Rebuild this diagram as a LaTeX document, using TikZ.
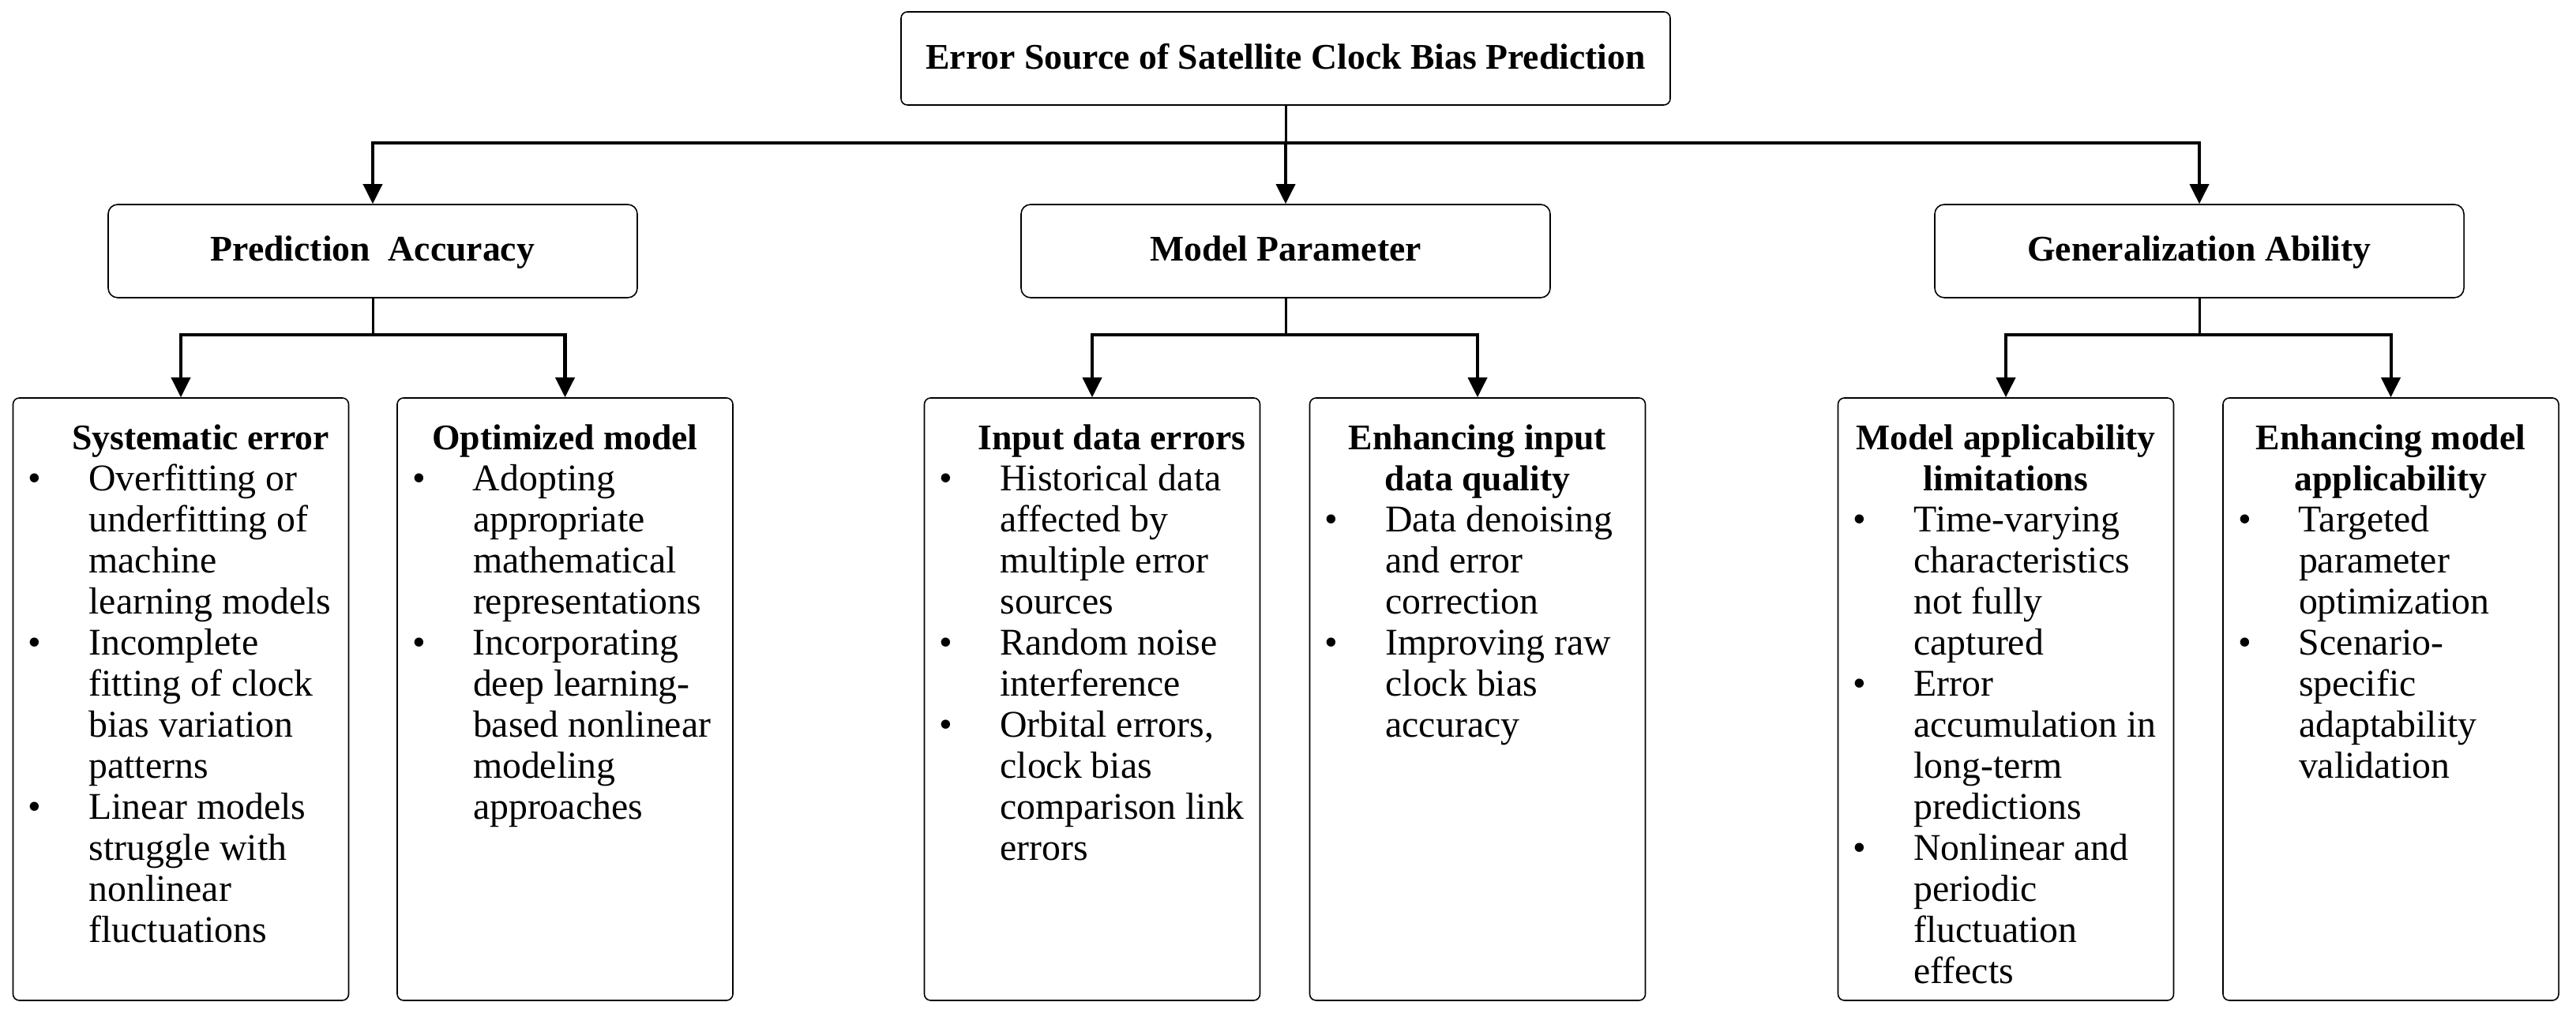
\documentclass[tikz,border=0pt]{standalone}
\usepackage{fontspec}
\setmainfont{Liberation Serif}
\usepackage{tikz}
\usetikzlibrary{arrows.meta}

\newcommand{\txtsize}{\fontsize{13.6}{14.8}\selectfont}
\newcommand{\ttlsize}{\fontsize{13}{14.8}\selectfont}
\newcommand{\bul}[1]{\par\noindent\hangindent=0.86cm\hangafter=1\makebox[0.86cm][l]{\hspace{0.09cm}\textbullet}#1}
\newcommand{\cardtitle}[1]{{\centering\ttlsize\textbf{#1}\par}}
\newcommand{\card}[1]{\begin{minipage}[t][7.43cm][t]{4.05cm}\raggedright\let\\\newline\vspace*{0.24cm}#1\end{minipage}}

\begin{document}
\begin{tikzpicture}[
	topbox/.style = {draw, line width=0.45pt, rounded corners=0.08cm, minimum width=9.74cm, minimum height=1.18cm, text height=0.98em, text depth=0.22em, font=\ttlsize\bfseries},
	midbox/.style = {draw, line width=0.45pt, rounded corners=0.12cm, minimum width=6.7cm, minimum height=1.18cm, text height=0.92em, text depth=0.22em, font=\ttlsize\bfseries},
	leafbox/.style = {draw, line width=0.45pt, rounded corners=0.08cm, inner sep=0.1cm, font=\txtsize},
	stem/.style = {line width=0.85pt},
	arr/.style = {line width=1.15pt, -{Triangle[width=6.8pt,length=7.1pt]}}
]
\useasboundingbox (0,0) rectangle (32.62,12.88);

\node[topbox] (root) at (16.28,12.14) {Error Source of Satellite Clock Bias Prediction};

\node[midbox] (acc) at (4.72,9.70)  {Prediction\ \ Accuracy};
\node[midbox] (par) at (16.28,9.70) {Model Parameter};
\node[midbox] (gen) at (27.85,9.70) {Generalization Ability};

\node[leafbox] (se) at (2.29,4.025) {\card{\cardtitle{\hspace*{0.5cm}Systematic error}
	\bul{Overfitting or\\ underfitting of\\ machine\\ learning models}
	\bul{Incomplete\\ fitting of clock\\ bias variation\\ patterns}
	\bul{Linear models\\ struggle with\\ nonlinear\\ fluctuations}}};
\node[leafbox] (om) at (7.155,4.025) {\card{\cardtitle{Optimized model}
	\bul{Adopting\\ appropriate\\ mathematical\\ representations}
	\bul{Incorporating\\ deep learning-\\ based nonlinear\\ modeling\\ approaches}}};
\node[leafbox] (ide) at (13.83,4.025) {\card{\cardtitle{\hspace*{0.5cm}Input data errors}
	\bul{Historical data\\ affected by\\ multiple error\\ sources}
	\bul{Random noise\\ interference}
	\bul{Orbital errors,\\ clock bias\\ comparison link\\ errors}}};
\node[leafbox] (eiq) at (18.71,4.025) {\card{\cardtitle{Enhancing input\\ data quality}
	\bul{Data denoising\\ and error\\ correction}
	\bul{Improving raw\\ clock bias\\ accuracy}}};
\node[leafbox] (mal) at (25.40,4.025) {\card{\cardtitle{Model applicability\\ limitations}
	\bul{Time-varying\\ characteristics\\ not fully\\ captured}
	\bul{Error\\ accumulation in\\ long-term\\ predictions}
	\bul{Nonlinear and\\ periodic\\ fluctuation\\ effects}}};
\node[leafbox] (ema) at (30.275,4.025) {\card{\cardtitle{Enhancing model\\ applicability}
	\bul{Targeted\\ parameter\\ optimization}
	\bul{Scenario-\\ specific\\ adaptability\\ validation}}};

% root to second level
\draw[stem] (root.south) -- ++(0,-0.47) coordinate (b0);
\draw[arr] (b0) -| (acc.north);
\draw[arr] (b0) -- (par.north);
\draw[arr] (b0) -| (gen.north);

% second level to leaves
\draw[stem] (acc.south) -- ++(0,-0.46) coordinate (b1);
\draw[arr] (b1) -| (se.north);
\draw[arr] (b1) -| (om.north);
\draw[stem] (par.south) -- ++(0,-0.46) coordinate (b2);
\draw[arr] (b2) -| (ide.north);
\draw[arr] (b2) -| (eiq.north);
\draw[stem] (gen.south) -- ++(0,-0.46) coordinate (b3);
\draw[arr] (b3) -| (mal.north);
\draw[arr] (b3) -| (ema.north);
\end{tikzpicture}
\end{document}
